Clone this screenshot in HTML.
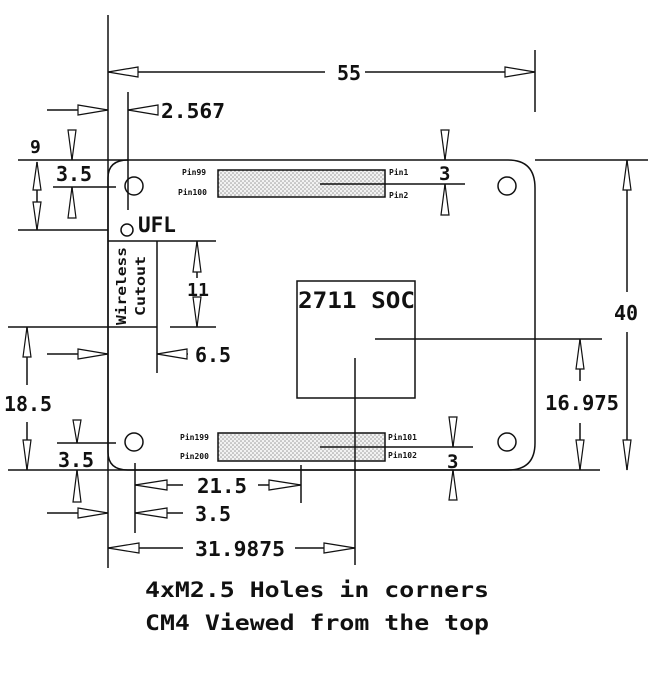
<!DOCTYPE html>
<html><head><meta charset="utf-8"><style>
html,body{margin:0;padding:0;background:#fff}
svg{display:block}
text{font-family:"DejaVu Sans Mono","Liberation Mono",monospace;font-weight:bold;fill:#111}
</style></head><body>
<svg width="656" height="687" viewBox="0 0 656 687" xmlns="http://www.w3.org/2000/svg">
<defs>
<pattern id="h" width="4" height="4" patternUnits="userSpaceOnUse">
<rect width="4" height="4" fill="#f2f2f2"/><circle cx="1" cy="1" r="0.8" fill="#999"/><circle cx="3" cy="3" r="0.8" fill="#999"/>
</pattern>
</defs>
<g stroke="#111" stroke-width="1.5" fill="none">
<!-- board outline -->
<path d="M128,160 L508,160 Q535,160 535,188 L535,443 Q535,470 508,470 L128,470 Q108,470 108,452 L108,178 Q108,160 128,160"/>
<!-- extension lines -->
<line x1="108" y1="15" x2="108" y2="568"/>
<line x1="18" y1="160" x2="128" y2="160"/>
<line x1="535" y1="160" x2="648" y2="160"/>
<line x1="535" y1="50" x2="535" y2="112"/>
<line x1="8" y1="470" x2="600" y2="470"/>
<line x1="128" y1="92" x2="128" y2="210"/>
<line x1="18" y1="230" x2="108" y2="230"/>
<line x1="53" y1="187" x2="116" y2="187"/>
<line x1="57" y1="443" x2="116" y2="443"/>
<!-- wireless cutout -->
<line x1="108" y1="241" x2="216" y2="241"/>
<line x1="157" y1="241" x2="157" y2="373"/>
<line x1="8" y1="327" x2="157" y2="327"/>
<line x1="170" y1="327" x2="216" y2="327"/>
<!-- holes -->
<circle cx="134" cy="186" r="9"/>
<circle cx="507" cy="186" r="9"/>
<circle cx="134" cy="442" r="9"/>
<circle cx="507" cy="442" r="9"/>
<circle cx="127" cy="230" r="6"/>
<!-- connectors -->
<rect x="218" y="170" width="167" height="27" fill="url(#h)"/>
<rect x="218" y="433" width="167" height="28" fill="url(#h)"/>
<line x1="320" y1="184" x2="465" y2="184"/>
<line x1="320" y1="447" x2="473" y2="447"/>
<!-- SOC -->
<rect x="297" y="281" width="118" height="117"/>
<line x1="375" y1="339" x2="602" y2="339"/>
<line x1="355" y1="358" x2="355" y2="565"/>
<!-- dim lines -->
<line x1="108" y1="72" x2="325" y2="72"/>
<line x1="365" y1="72" x2="535" y2="72"/>
<line x1="47" y1="110" x2="108" y2="110"/>
<line x1="128" y1="110" x2="158" y2="110"/>
<line x1="37" y1="162" x2="37" y2="230"/>
<line x1="72" y1="130" x2="72" y2="160"/>
<line x1="72" y1="187" x2="72" y2="218"/>
<line x1="197" y1="241" x2="197" y2="278"/>
<line x1="197" y1="297" x2="197" y2="327"/>
<line x1="47" y1="354" x2="108" y2="354"/>
<line x1="157" y1="354" x2="188" y2="354"/>
<line x1="27" y1="327" x2="27" y2="385"/>
<line x1="27" y1="422" x2="27" y2="470"/>
<line x1="77" y1="420" x2="77" y2="443"/>
<line x1="77" y1="470" x2="77" y2="502"/>
<line x1="445" y1="130" x2="445" y2="160"/>
<line x1="445" y1="184" x2="445" y2="215"/>
<line x1="453" y1="417" x2="453" y2="447"/>
<line x1="453" y1="470" x2="453" y2="500"/>
<line x1="580" y1="339" x2="580" y2="381"/>
<line x1="580" y1="423" x2="580" y2="470"/>
<line x1="627" y1="160" x2="627" y2="292"/>
<line x1="627" y1="332" x2="627" y2="470"/>
<line x1="135" y1="463" x2="135" y2="533"/>
<line x1="301" y1="465" x2="301" y2="503"/>
<line x1="135" y1="485" x2="183" y2="485"/>
<line x1="258" y1="485" x2="301" y2="485"/>
<line x1="47" y1="513" x2="108" y2="513"/>
<line x1="135" y1="513" x2="183" y2="513"/>
<line x1="108" y1="548" x2="183" y2="548"/>
<line x1="295" y1="548" x2="355" y2="548"/>
</g>
<!-- arrowheads -->
<g stroke="#111" stroke-width="1.2" fill="#fff">
<polygon points="108,72 138,67 138,77"/>
<polygon points="535,72 505,67 505,77"/>
<polygon points="108,110 78,105 78,115"/>
<polygon points="128,110 158,105 158,115"/>
<polygon points="37,162 33,190 41,190"/>
<polygon points="37,230 33,202 41,202"/>
<polygon points="72,160 68,130 76,130"/>
<polygon points="72,187 68,218 76,218"/>
<polygon points="197,241 193,272 201,272"/>
<polygon points="197,327 193,297 201,297"/>
<polygon points="108,354 78,349 78,359"/>
<polygon points="157,354 187,349 187,359"/>
<polygon points="27,327 23,357 31,357"/>
<polygon points="27,470 23,440 31,440"/>
<polygon points="77,443 73,420 81,420"/>
<polygon points="77,470 73,502 81,502"/>
<polygon points="445,160 441,130 449,130"/>
<polygon points="445,184 441,215 449,215"/>
<polygon points="453,447 449,417 457,417"/>
<polygon points="453,470 449,500 457,500"/>
<polygon points="580,339 576,369 584,369"/>
<polygon points="580,470 576,440 584,440"/>
<polygon points="627,160 623,190 631,190"/>
<polygon points="627,470 623,440 631,440"/>
<polygon points="135,485 167,480 167,490"/>
<polygon points="301,485 269,480 269,490"/>
<polygon points="108,513 78,508 78,518"/>
<polygon points="135,513 167,508 167,518"/>
<polygon points="108,548 139,543 139,553"/>
<polygon points="355,548 324,543 324,553"/>
</g>
<!-- labels -->
<g font-size="20">
<text x="337" y="80">55</text>
<text x="161" y="118" textLength="64" lengthAdjust="spacingAndGlyphs">2.567</text>
<text x="30" y="153" font-size="18">9</text>
<text x="56" y="181" textLength="36" lengthAdjust="spacingAndGlyphs">3.5</text>
<text x="138" y="232" font-size="21">UFL</text>
<text x="187" y="296" font-size="18" textLength="22" lengthAdjust="spacingAndGlyphs">11</text>
<text x="195" y="362" textLength="36" lengthAdjust="spacingAndGlyphs">6.5</text>
<text x="4" y="411" textLength="48" lengthAdjust="spacingAndGlyphs">18.5</text>
<text x="58" y="467" textLength="36" lengthAdjust="spacingAndGlyphs">3.5</text>
<text x="298" y="308" font-size="22" textLength="117" lengthAdjust="spacingAndGlyphs">2711 SOC</text>
<text x="439" y="180" font-size="19">3</text>
<text x="447" y="468" font-size="19">3</text>
<text x="545" y="410" textLength="74" lengthAdjust="spacingAndGlyphs">16.975</text>
<text x="614" y="320">40</text>
<text x="197" y="493" textLength="50" lengthAdjust="spacingAndGlyphs">21.5</text>
<text x="195" y="521" textLength="36" lengthAdjust="spacingAndGlyphs">3.5</text>
<text x="195" y="556" textLength="90" lengthAdjust="spacingAndGlyphs">31.9875</text>
<text x="145" y="597" font-size="21" textLength="344" lengthAdjust="spacingAndGlyphs">4xM2.5 Holes in corners</text>
<text x="145" y="630" font-size="21" textLength="344" lengthAdjust="spacingAndGlyphs">CM4 Viewed from the top</text>
</g>
<g font-size="8">
<text x="182" y="175">Pin99</text>
<text x="178" y="195">Pin100</text>
<text x="389" y="175">Pin1</text>
<text x="389" y="198">Pin2</text>
<text x="180" y="440">Pin199</text>
<text x="180" y="459">Pin200</text>
<text x="388" y="440">Pin101</text>
<text x="388" y="458">Pin102</text>
</g>
<g font-size="13" transform="rotate(-90)">
<text x="-325" y="126" textLength="78" lengthAdjust="spacingAndGlyphs">Wireless</text>
<text x="-316" y="145" textLength="60" lengthAdjust="spacingAndGlyphs">Cutout</text>
</g>
</svg>
</body></html>
